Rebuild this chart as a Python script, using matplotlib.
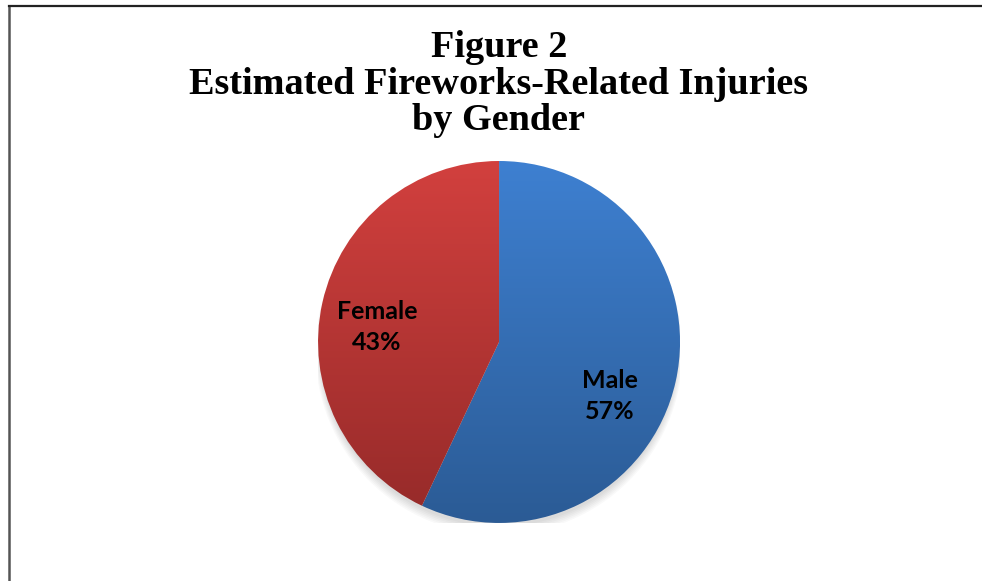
import numpy as np
import matplotlib
from matplotlib import pyplot as plt
from matplotlib.colors import LinearSegmentedColormap
from matplotlib.lines import Line2D
from matplotlib.patches import Circle

categories = ["Male", "Female"]
shares = [57, 43]
top_colors = ["#3e80d1", "#d2403e"]
bottom_colors = ["#2b5b95", "#952a29"]
label_offsets = [(0.613, -0.298), (-0.674, 0.083)]

title_lines = "Figure 2\nEstimated Fireworks-Related Injuries\nby Gender"


def main():
    fig = plt.figure(figsize=(9.82, 5.81), dpi=100)
    fig.patch.set_facecolor("white")

    # frame around the chart (only top and left edges visible in crop)
    fig.add_artist(Line2D([0.0088, 0.0088], [0.0, 0.9890], transform=fig.transFigure,
                          color="#555555", linewidth=1.8))
    fig.add_artist(Line2D([0.0088, 1.0], [0.9890, 0.9890], transform=fig.transFigure,
                          color="#222222", linewidth=1.6))

    fig.text(0.508, 1 - 84 / 581, title_lines, ha="center", va="center",
             fontsize=27.5, fontweight="bold", family="Liberation Serif",
             linespacing=1.06)

    ax = fig.add_axes([0.3239, 0.0999, 0.3686, 0.623])

    # soft shadow under the pie
    for k in range(6):
        ax.add_patch(Circle((0.0, -0.03 - 0.004 * k), 0.99 + 0.005 * k,
                            color="black", alpha=0.025, linewidth=0, zorder=0))

    wedges, _ = ax.pie(shares, startangle=90, counterclock=False, radius=1.0,
                       colors=["none", "none"], wedgeprops={"linewidth": 0})

    grad = np.linspace(0, 1, 256).reshape(-1, 1)
    for w, c_top, c_bot in zip(wedges, top_colors, bottom_colors):
        w.set_zorder(2)
        cmap = LinearSegmentedColormap.from_list("g", [c_top, c_bot])
        im = ax.imshow(grad, cmap=cmap, extent=[-1, 1, -1, 1], origin="upper",
                       aspect="auto", zorder=1, interpolation="bilinear")
        im.set_clip_path(w)

    for name, val, (x, y) in zip(categories, shares, label_offsets):
        ax.text(x, y, f"{name}\n{val}%", ha="center", va="center",
                fontsize=18, fontweight="bold", family="Lato",
                color="black", linespacing=1.45, zorder=5)

    ax.set_xlim(-1, 1)
    ax.set_ylim(-1, 1)
    ax.set_aspect("equal")
    ax.axis("off")

    fig.savefig("out.png", dpi=100)


if __name__ == "__main__":
    main()
